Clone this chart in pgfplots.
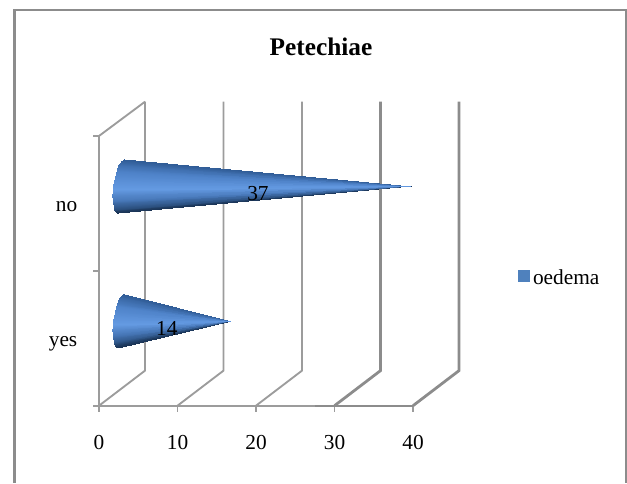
\documentclass[border=0pt]{standalone}
\usepackage{fontspec}
\setmainfont{Liberation Serif}
\usepackage{pgfplots}
\pgfplotsset{compat=1.18}
\usepackage{pgfplotstable}

\definecolor{wall}{HTML}{9C9C9C}
\definecolor{wallthick}{HTML}{8C8C8C}
\definecolor{oedema}{HTML}{4F81BD}

% cone outlines: base rim row, then tip row; c = position across the cone
\pgfplotstableread{
x y c
0.382 1.700 -27
0.199 1.697 -26.6
0.010 1.688 -25.4
-0.178 1.674 -23.4
-0.362 1.654 -20.7
-0.535 1.629 -17.4
-0.692 1.600 -13.5
-0.827 1.568 -9.2
-0.938 1.535 -4.7
-1.019 1.500 0
-1.070 1.465 4.7
-1.089 1.432 9.2
-1.074 1.400 13.5
-1.027 1.371 17.4
-0.948 1.346 20.7
-0.841 1.326 23.4
-0.708 1.312 25.4
-0.553 1.303 26.6
-0.382 1.300 27
37 1.5 -27
37 1.5 -26.6
37 1.5 -25.4
37 1.5 -23.4
37 1.5 -20.7
37 1.5 -17.4
37 1.5 -13.5
37 1.5 -9.2
37 1.5 -4.7
37 1.5 0
37 1.5 4.7
37 1.5 9.2
37 1.5 13.5
37 1.5 17.4
37 1.5 20.7
37 1.5 23.4
37 1.5 25.4
37 1.5 26.6
37 1.5 27
}\conenotable

\pgfplotstableread{
x y c
0.382 0.700 -27
0.199 0.697 -26.6
0.010 0.688 -25.4
-0.178 0.674 -23.4
-0.362 0.654 -20.7
-0.535 0.629 -17.4
-0.692 0.600 -13.5
-0.827 0.568 -9.2
-0.938 0.535 -4.7
-1.019 0.500 0
-1.070 0.465 4.7
-1.089 0.432 9.2
-1.074 0.400 13.5
-1.027 0.371 17.4
-0.948 0.346 20.7
-0.841 0.326 23.4
-0.708 0.312 25.4
-0.553 0.303 26.6
-0.382 0.300 27
14 0.5 -27
14 0.5 -26.6
14 0.5 -25.4
14 0.5 -23.4
14 0.5 -20.7
14 0.5 -17.4
14 0.5 -13.5
14 0.5 -9.2
14 0.5 -4.7
14 0.5 0
14 0.5 4.7
14 0.5 9.2
14 0.5 13.5
14 0.5 17.4
14 0.5 20.7
14 0.5 23.4
14 0.5 25.4
14 0.5 26.6
14 0.5 27
}\coneyestable

\begin{document}
\begin{tikzpicture}
\path (0pt,0pt) rectangle (470.25pt,362.25pt);
\begin{axis}[
    at={(74.25pt,57.975pt)},
    anchor=south west,
    scale only axis,
    width=235.5pt,
    height=202.3pt,
    xmin=0, xmax=40,
    ymin=0, ymax=2,
    clip=false,
    font=\fontsize{16}{18}\selectfont,
    /pgf/number format/assume math mode=true,
    axis x line*=bottom,
    axis y line*=left,
    axis line style={draw=wall,line width=1.4pt,-},
    tick align=outside,
    tick style={draw=wall,line width=1.4pt},
    major tick length=4.5pt,
    xtick={0,10,20,30,40},
    xticklabel style={yshift=-14pt},
    ytick={0,1,2},
    yticklabels={},
    extra y ticks={0.5,1.5},
    extra y tick labels={yes,no},
    extra y tick style={major tick length=0pt,
        yticklabel style={xshift=-12.75pt,yshift=-3.25pt,text height=1.5ex,text depth=0.25ex}},
    title={\textbf{\fontsize{19}{21}\selectfont Petechiae}},
    title style={at={(0.707,1.30)},anchor=center},
    colormap={conemap}{
        rgb255(0cm)=(48,92,150);
        rgb255(12cm)=(78,130,200);
        rgb255(30cm)=(100,154,226);
        rgb255(42cm)=(70,118,182);
        rgb255(50cm)=(42,78,124);
        rgb255(54cm)=(24,48,80)
    },
    point meta min=-27,
    point meta max=27,
    legend style={at={(1.333,0.474)},anchor=west,draw=none,fill=none,
        inner sep=0pt,font=\fontsize{16}{18}\selectfont},
    legend cell align=left,
]
% walls behind the cones
\addplot[wall,line width=1.4pt,forget plot] coordinates {(0,2) (5.86,2.254)};
\addplot[wall,line width=1.4pt,forget plot] coordinates {(0,0) (5.86,0.26) (5.86,2.254)};
\addplot[wall,line width=1.4pt,forget plot] coordinates {(10,0) (15.86,0.26) (15.86,2.254)};
\addplot[wall,line width=1.4pt,forget plot] coordinates {(20,0) (25.86,0.26) (25.86,2.254)};
\addplot[wallthick,line width=2.1pt,forget plot] coordinates {(30,0) (35.86,0.26) (35.86,2.254)};
\addplot[wallthick,line width=2.1pt,forget plot] coordinates {(40,0) (45.86,0.26) (45.86,2.254)};
\addplot[wallthick,line width=1.7pt,forget plot] coordinates {(27.5,0) (40,0)};
% cones, pushed back to the middle of the depth (shift is applied twice)
\addplot[surf,shader=interp,mesh/rows=2,forget plot,xshift=8.25pt,yshift=6.5pt,
    point meta=explicit] table[x=x,y=y,meta=c] {\conenotable};
\addplot[surf,shader=interp,mesh/rows=2,forget plot,xshift=8.25pt,yshift=6.5pt,
    point meta=explicit] table[x=x,y=y,meta=c] {\coneyestable};
\addlegendimage{legend image code/.code={
    \fill[oedema] (0pt,-2.25pt) rectangle (8.25pt,6pt);
    \path (9pt,0pt);}}
\addlegendentry{oedema}
\node at (axis cs:20.25,1.57) {37};
\node at (axis cs:8.65,0.576) {14};
\end{axis}
% outer frame, open at the bottom
\fill[wallthick] (9.75pt,0pt) rectangle (12pt,355.5pt);
\fill[wallthick] (9.75pt,353.9pt) rectangle (470.25pt,355.5pt);
\fill[wallthick] (469pt,0pt) rectangle (470.25pt,355.5pt);
\end{tikzpicture}
\end{document}
